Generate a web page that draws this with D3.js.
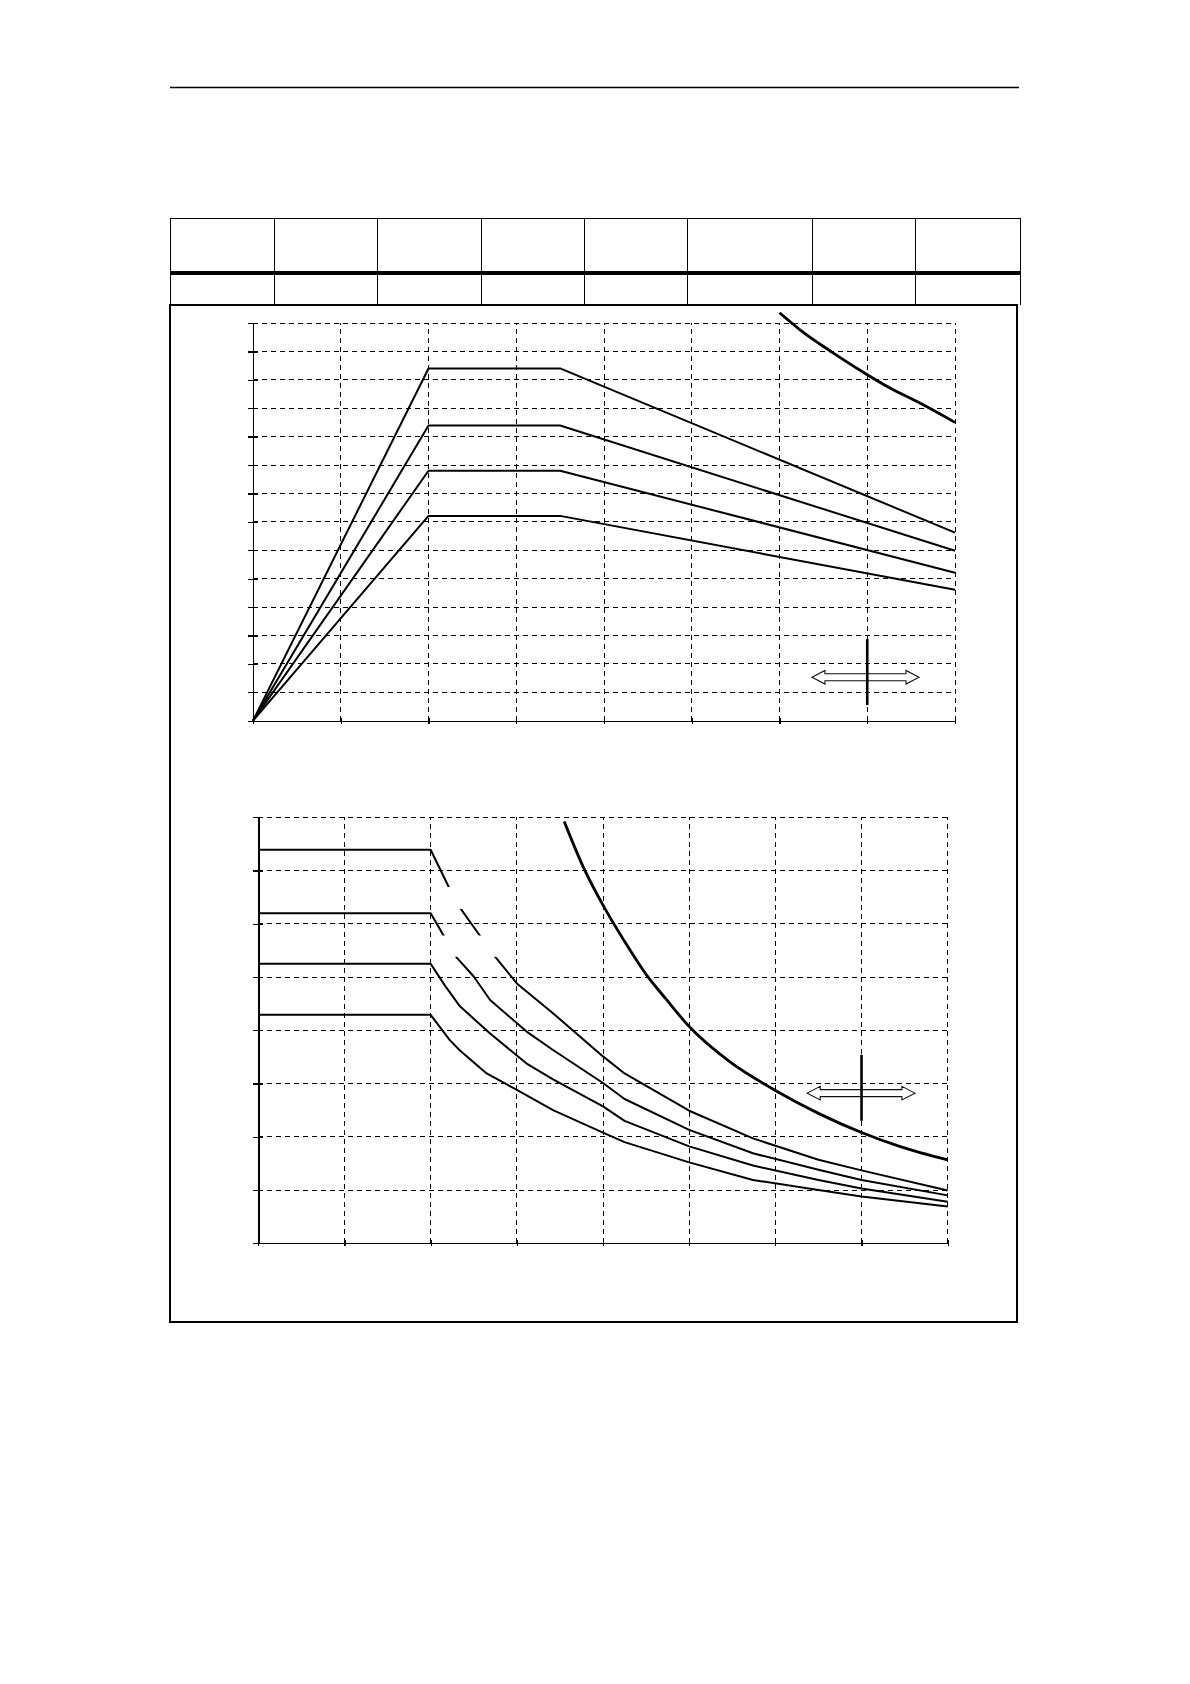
<!DOCTYPE html>
<html>
<head>
<meta charset="utf-8">
<script src="https://cdnjs.cloudflare.com/ajax/libs/d3/7.8.5/d3.min.js"></script>
<style>
  body { margin: 0; background: #fff; }
</style>
</head>
<body>
<svg id="page" width="1190" height="1684"></svg>
<script>
// ---- data (grid units) ----
// upper chart: x 0..8, y 0..14
const xTicks1 = d3.range(0, 9);
const yTicks1 = d3.range(0, 15);
const top1A = [[0, 0], [2, 12.4], [3.5, 12.4], [8, 6.62]];
const top1B = [[0, 0], [2, 10.39], [3.5, 10.39], [8, 5.98]];
const top1C = [[0, 0], [2, 8.8], [3.5, 8.8], [8, 5.21]];
const top1D = [[0, 0], [2, 7.21], [3.5, 7.21], [8, 4.61]];
const top1E = [[6.0, 14.36], [6.23, 13.77], [6.61, 12.95], [7.0, 12.18], [7.26, 11.71], [7.6, 11.18], [8.0, 10.5]];

// lower chart: x 0..8, y 0..8
const xTicks2 = d3.range(0, 9);
const yTicks2 = d3.range(0, 9);
const low2P = [[0, 7.39], [2, 7.39], [2.21, 6.69], [2.35, 6.28], [2.57, 5.78], [2.75, 5.38], [3.0, 4.88], [3.42, 4.32],
  [4.0, 3.51], [4.25, 3.19], [5.0, 2.49], [5.74, 1.97], [6.5, 1.57], [7.0, 1.37], [8.0, 0.99]];
const low2Q = [[0, 6.2], [2, 6.2], [2.15, 5.78], [2.3, 5.37], [2.5, 5.01], [2.69, 4.57], [3.11, 3.98], [3.42, 3.63],
  [4.0, 3.01], [4.25, 2.71], [5.0, 2.13], [5.74, 1.69], [6.5, 1.38], [7.0, 1.19], [8.0, 0.9]];
const low2R = [[0, 5.25], [2, 5.25], [2.17, 4.83], [2.34, 4.45], [2.69, 3.94], [3.11, 3.38], [3.42, 3.08],
  [4.0, 2.57], [4.25, 2.3], [5.0, 1.82], [5.74, 1.46], [6.5, 1.19], [7.0, 1.03], [8.0, 0.78]];
const low2S = [[0, 4.29], [2, 4.29], [2.22, 3.82], [2.34, 3.62], [2.65, 3.19], [3.0, 2.88], [3.42, 2.5],
  [4.0, 2.08], [4.25, 1.9], [5.0, 1.52], [5.74, 1.19], [6.5, 1.0], [7.0, 0.88], [8.0, 0.69]];
const low2E = [[3.55, 7.92], [3.77, 7.07], [4.0, 6.35], [4.25, 5.67], [4.5, 5.05], [4.74, 4.57], [5.0, 4.07],
  [5.47, 3.41], [6.0, 2.87], [6.5, 2.44], [7.0, 2.08], [7.45, 1.815], [8.0, 1.565]];
// blank label boxes that break the lines (x0, x1, y0, y1)
const low2Labels = [[2.08, 2.95, 6.28, 6.69], [2.08, 2.95, 5.38, 5.78]];

// double arrow symbol: [xLeft, xRight, yMid, yBarTop, yBarBottom, xBar]
const sym1 = [6.37, 7.59, 1.53, 2.87, 0.55, 7];
const sym2 = [6.37, 7.62, 2.82, 3.54, 2.30, 7];

const svg = d3.select('#page');

// ---- page frame ----
svg.append('line').attr('x1', 170).attr('x2', 1019).attr('y1', 87.5).attr('y2', 87.5)
  .attr('stroke', '#000').attr('stroke-width', 1.3);

const tableCols = [170.5, 274.5, 377.5, 481.5, 584.5, 687.5, 812.5, 915.5, 1020.5];
const tbl = svg.append('g').attr('stroke', '#000').attr('fill', 'none').attr('shape-rendering', 'crispEdges');
tbl.append('line').attr('x1', 170).attr('x2', 1021).attr('y1', 218.5).attr('y2', 218.5).attr('stroke-width', 1);
tbl.append('line').attr('x1', 170).attr('x2', 1021).attr('y1', 273).attr('y2', 273).attr('stroke-width', 4);
tbl.selectAll('line.col').data(tableCols).join('line').attr('class', 'col')
  .attr('x1', d => d).attr('x2', d => d).attr('y1', 218).attr('y2', 305).attr('stroke-width', 1);

// outer box
svg.append('rect').attr('x', 170).attr('y', 305).attr('width', 847).attr('height', 1017)
  .attr('fill', 'none').attr('stroke', '#000').attr('stroke-width', 2).attr('shape-rendering', 'crispEdges');

function drawPanel(x, y, xt, yt, curves, thick, sym, labels) {
  const g = svg.append('g');
  const x0 = x.range()[0], x1 = x.range()[1];
  const y0 = y.range()[0], y1 = y.range()[1];

  // dashed grid
  const grid = g.append('g').attr('shape-rendering', 'crispEdges')
    .attr('stroke', '#000').attr('stroke-width', 1).attr('stroke-dasharray', '5,4');
  grid.selectAll('line.vg').data(xt.slice(1)).join('line').attr('class', 'vg')
    .attr('x1', d => x(d)).attr('x2', d => x(d)).attr('y1', y0).attr('y2', y1);
  grid.selectAll('line.hg').data(yt.slice(1)).join('line').attr('class', 'hg')
    .attr('x1', x0).attr('x2', x1).attr('y1', d => y(d)).attr('y2', d => y(d));

  // axes, ticks cross the axis line
  const ax = g.append('g').attr('transform', `translate(0,${y0})`)
    .call(d3.axisBottom(x).tickValues(xt).tickSize(3).tickSizeOuter(0).tickFormat(''));
  ax.selectAll('.tick line').attr('y1', -3);
  const ay = g.append('g').attr('transform', `translate(${x0},0)`)
    .call(d3.axisLeft(y).tickValues(yt).tickSize(5.5).tickSizeOuter(0).tickFormat(''));
  ay.selectAll('.tick line').attr('x1', 5);
  ax.select('.domain').attr('stroke-width', 1.3);
  ay.select('.domain').attr('stroke-width', 1.8);
  g.selectAll('.tick line').attr('stroke-width', 1.3);
  g.selectAll('.domain, .tick line').attr('shape-rendering', 'crispEdges');

  const line = d3.line().x(d => x(d[0])).y(d => y(d[1]));
  const smooth = d3.line().x(d => x(d[0])).y(d => y(d[1])).curve(d3.curveMonotoneX);

  g.selectAll('path.curve').data(curves).join('path').attr('class', 'curve')
    .attr('d', line).attr('fill', 'none').attr('stroke', '#000')
    .attr('stroke-width', 2).attr('stroke-linejoin', 'round');
  g.append('path').attr('d', smooth(thick)).attr('fill', 'none')
    .attr('stroke', '#000').attr('stroke-width', 2.8);

  if (labels) {
    g.selectAll('rect.lbl').data(labels).join('rect').attr('class', 'lbl')
      .attr('x', d => x(d[0])).attr('width', d => x(d[1]) - x(d[0]))
      .attr('y', d => y(d[3])).attr('height', d => y(d[2]) - y(d[3]))
      .attr('fill', '#fff');
  }

  // hollow double arrow with bar
  const xl = x(sym[0]), xr = x(sym[1]), ym = y(sym[2]);
  const sh = 3.5, hh = 6.8, hl = 13;
  const pts = [[xl, ym], [xl + hl, ym - hh], [xl + hl, ym - sh], [xr - hl, ym - sh], [xr - hl, ym - hh], [xr, ym],
    [xr - hl, ym + hh], [xr - hl, ym + sh], [xl + hl, ym + sh], [xl + hl, ym + hh]];
  g.append('path').attr('d', 'M' + pts.map(p => p.join(',')).join('L') + 'Z')
    .attr('fill', '#fff').attr('stroke', '#111').attr('stroke-width', 1.1);
  g.append('line').attr('x1', x(sym[5])).attr('x2', x(sym[5]))
    .attr('y1', y(sym[3])).attr('y2', y(sym[4]))
    .attr('stroke', '#000').attr('stroke-width', 2.6);
}

const xs1 = d3.scaleLinear().domain([0, 8]).range([253, 955]);
const ys1 = d3.scaleLinear().domain([0, 14]).range([720.7, 323]);
drawPanel(xs1, ys1, xTicks1, yTicks1, [top1A, top1B, top1C, top1D], top1E, sym1, null);

const xs2 = d3.scaleLinear().domain([0, 8]).range([258.3, 947.7]);
const ys2 = d3.scaleLinear().domain([0, 8]).range([1243.3, 817.3]);
drawPanel(xs2, ys2, xTicks2, yTicks2, [low2P, low2Q, low2R, low2S], low2E, sym2, low2Labels);
</script>
</body>
</html>
